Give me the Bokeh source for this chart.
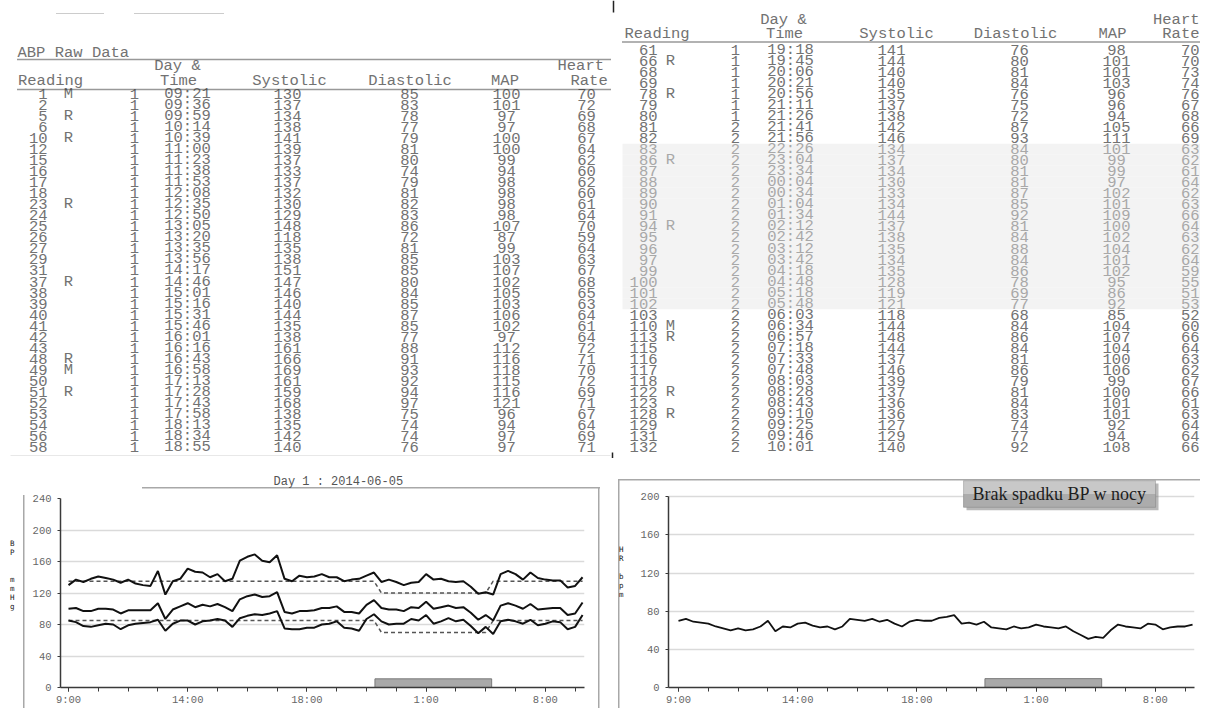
import numpy as np
from bokeh.plotting import figure
from bokeh.layouts import column, row
from bokeh.models import Range1d, FixedTicker, ColumnDataSource, Label, BoxAnnotation
from bokeh.core.properties import value
from bokeh.embed import file_html
from bokeh.resources import INLINE

reading = [1, 2, 5, 6, 10, 12, 15, 16, 17, 18, 23, 24, 25, 26, 27, 29, 31, 37, 38, 39,
           40, 41, 42, 43, 48, 49, 50, 51, 52, 53, 54, 56, 58,
           61, 66, 68, 69, 78, 79, 80, 81, 82, 83, 86, 87, 88, 89, 90, 91, 94, 95,
           96, 97, 99, 100, 101, 102, 103, 110, 113, 115, 116, 117, 118, 122, 123,
           128, 129, 131, 132]
flag_of = {1: "M", 5: "R", 10: "R", 23: "R", 37: "R", 48: "R", 49: "M", 51: "R",
           66: "R", 78: "R", 86: "R", 94: "R", 110: "M", 113: "R", 122: "R", 128: "R"}
day = [1] * 40 + [2] * 30
time = ["09:21", "09:36", "09:59", "10:14", "10:39", "11:00", "11:23", "11:38", "11:53",
        "12:08", "12:35", "12:50", "13:05", "13:20", "13:35", "13:56", "14:17", "14:46",
        "15:01", "15:16", "15:31", "15:46", "16:01", "16:16", "16:43", "16:58", "17:13",
        "17:28", "17:43", "17:58", "18:13", "18:34", "18:55",
        "19:18", "19:45", "20:06", "20:21", "20:56", "21:11", "21:26", "21:41", "21:56",
        "22:26", "23:04", "23:34", "00:04", "00:34", "01:04", "01:34", "02:12", "02:42",
        "03:12", "03:42", "04:18", "04:48", "05:18", "05:48", "06:03", "06:34", "06:57",
        "07:18", "07:33", "07:48", "08:03", "08:28", "08:43", "09:10", "09:25", "09:46",
        "10:01"]
systolic = [130, 137, 134, 138, 141, 139, 137, 133, 137, 132, 130, 129, 148, 118, 135,
            138, 151, 147, 146, 140, 144, 135, 138, 161, 166, 169, 161, 159, 168, 138,
            135, 142, 140,
            141, 144, 140, 140, 135, 137, 138, 142, 146, 134, 137, 134, 130, 133, 134,
            144, 137, 138, 135, 134, 135, 128, 119, 121, 118, 144, 148, 144, 137, 146,
            139, 137, 136, 136, 127, 129, 140]
diastolic = [85, 83, 78, 77, 79, 81, 80, 74, 79, 81, 82, 83, 86, 72, 81, 85, 85, 80, 84,
             85, 87, 85, 77, 88, 91, 93, 92, 94, 97, 75, 74, 74, 76,
             76, 80, 81, 84, 76, 75, 72, 87, 93, 84, 80, 81, 81, 87, 85, 92, 81, 84, 88,
             84, 86, 78, 69, 77, 68, 84, 86, 84, 81, 86, 79, 81, 84, 83, 74, 77, 92]
mean_ap = [100, 101, 97, 97, 100, 100, 99, 94, 98, 98, 98, 98, 107, 87, 99, 103, 107, 102,
           105, 103, 106, 102, 97, 112, 116, 118, 115, 116, 121, 96, 94, 97, 97,
           98, 101, 101, 103, 96, 96, 94, 105, 111, 101, 99, 99, 97, 102, 101, 109, 100,
           102, 104, 101, 102, 95, 86, 92, 85, 104, 107, 104, 100, 106, 99, 100, 101,
           101, 92, 94, 108]
heart_rate = [70, 72, 69, 68, 67, 64, 62, 60, 62, 60, 61, 64, 70, 59, 64, 63, 67, 68, 65,
              63, 64, 61, 64, 72, 71, 70, 72, 69, 71, 67, 64, 69, 71,
              70, 70, 73, 74, 76, 67, 68, 66, 69, 63, 62, 61, 64, 62, 63, 66, 64, 63, 62,
              64, 59, 55, 51, 53, 52, 60, 66, 64, 63, 62, 67, 66, 61, 63, 64, 64, 66]
left_rows = 33                      # rows printed in the left table
sleep_start, sleep_end = "22:00", "06:00"
sys_limit_day, sys_limit_night = 135, 120
dia_limit_day, dia_limit_night = 85, 70
tick_step, minor_step = 16, 4
bp_ticks = [0, 40, 80, 120, 160, 200, 240]
hr_ticks = [0, 40, 80, 120, 160, 200]
table_title = "ABP Raw Data"
chart_title = "Day 1 : 2014-06-05"
note_text = "Brak spadku BP w nocy"
NB = "\u00a0"
bp_axis_label = "\n".join(["B", "P", NB, NB, "m", "m", "H", "g"] + [NB] * 4)
hr_axis_label = "\n".join(["H", "R", NB, "b", "p", "m"] + [NB] * 2)

n = len(reading)
assert all(len(a) == n for a in [day, time, systolic, diastolic, mean_ap, heart_rate])
idx = np.arange(n)
flags = [flag_of.get(r, "") for r in reading]

# minutes since start of recording
mins, off, prev = [], 0, -1
for t in time:
    h, m = map(int, t.split(":"))
    v = h * 60 + m + off
    if v < prev:
        off += 1440
        v += 1440
    prev = v
    mins.append(v)
mins = np.array(mins)
hs, ms = map(int, sleep_start.split(":"))
he, me = map(int, sleep_end.split(":"))
s0 = hs * 60 + ms
s1 = he * 60 + me + 1440
night = (mins >= s0) & (mins < s1)
bar_l = float(np.interp(s0, mins, idx))
bar_r = float(np.interp(s1, mins, idx))
sys_thr = [sys_limit_night if f else sys_limit_day for f in night]
dia_thr = [dia_limit_night if f else dia_limit_day for f in night]

major = list(range(0, n, tick_step))
minor = list(range(0, n, minor_step))
xlabels = {i: "%d:00" % int(time[i].split(":")[0]) for i in major}

MONO = "Liberation Mono"
TXT = "#727272"
TXT_NIGHT = "#a8a8a8"

# ---------------- tables ----------------
TOP_H = 458
top = figure(width=1200, height=TOP_H, x_range=Range1d(0, 1200), y_range=Range1d(TOP_H, 0),
             output_backend="svg", toolbar_location=None, x_axis_location=None,
             y_axis_location=None, min_border=0)
top.frame_align = False
top.grid.visible = False
top.outline_line_color = None

FS = "15.5px"


def txt(xs, ys, texts, colors, align):
    src = ColumnDataSource(dict(x=xs, y=ys, t=texts, c=colors))
    top.text(x="x", y="y", text="t", text_color="c", source=src,
             text_font=value(MONO), text_font_size=value(FS),
             text_align=align, text_baseline="middle")


tables = [
    dict(rows=list(range(0, left_rows)), y0=93.0, dy=11.06,
         cols=dict(num=47, flag=68, day=134, time=187, sys=287, dia=409, map=506, hr=586),
         hr_align="center",
         heads=[("Day &", 177, 65, "center"), ("Heart", 557, 65, "left"),
                ("Reading", 17.5, 80, "left"), ("Time", 178, 80, "center"),
                ("Systolic", 289, 80, "center"), ("Diastolic", 409.5, 80, "center"),
                ("MAP", 504.5, 80, "center"), ("Rate", 570, 80, "left")],
         dots=[(17, 610, 59), (17, 610, 89)], shade=None),
    dict(rows=list(range(left_rows, n)), y0=49.3, dy=11.04,
         cols=dict(num=657, flag=670, day=735, time=790, sys=891, dia=1019, map=1116, hr=1199),
         hr_align="right",
         heads=[("Day &", 783, 19, "center"), ("Heart", 1199, 19, "right"),
                ("Reading", 624, 33, "left"), ("Time", 784, 33, "center"),
                ("Systolic", 896, 33, "center"), ("Diastolic", 1015, 33, "center"),
                ("MAP", 1112, 33, "center"), ("Rate", 1199, 33, "right")],
         dots=[(622, 1200, 41.5)], shade=(622, 1200)),
]

for tb in tables:
    rows = tb["rows"]
    ys = [tb["y0"] + k * tb["dy"] for k in range(len(rows))]
    cols = [TXT_NIGHT if night[i] else TXT for i in rows]
    if tb["shade"] is not None:
        ny = [ys[k] for k, i in enumerate(rows) if night[i]]
        if ny:
            top.quad(left=[tb["shade"][0]] * len(ny), right=[tb["shade"][1]] * len(ny),
                     top=[y - tb["dy"] / 2 for y in ny], bottom=[y + tb["dy"] / 2 for y in ny],
                     fill_color="#f3f3f3", line_color=None)
    c = tb["cols"]
    txt([c["num"]] * len(rows), ys, [str(reading[i]) for i in rows], cols, "right")
    txt([c["flag"]] * len(rows), ys, [flags[i] for i in rows], cols, "center")
    txt([c["day"]] * len(rows), ys, [str(day[i]) for i in rows], cols, "center")
    txt([c["time"]] * len(rows), ys, [time[i] for i in rows], cols, "center")
    txt([c["sys"]] * len(rows), ys, [str(systolic[i]) for i in rows], cols, "center")
    txt([c["dia"]] * len(rows), ys, [str(diastolic[i]) for i in rows], cols, "center")
    txt([c["map"]] * len(rows), ys, [str(mean_ap[i]) for i in rows], cols, "center")
    txt([c["hr"]] * len(rows), ys, [str(heart_rate[i]) for i in rows], cols, tb["hr_align"])
    for (h, hx, hy, al) in tb["heads"]:
        txt([hx], [hy], [h], [TXT], al)
    for (x0, x1, yy) in tb["dots"]:
        top.line([x0, x1], [yy, yy], line_color="#333333", line_width=1.3, line_dash="1 1")

txt([17], [52.7], [table_title], [TXT], "left")
top.line([56, 103], [13, 13], line_color="#999999", line_width=1, line_dash="1 1")
top.line([134, 224], [13, 13], line_color="#999999", line_width=1, line_dash="1 1")
top.line([10, 610], [455, 455], line_color="#e8e8e8", line_width=1)
top.segment(x0=[613, 612], y0=[0, 452], x1=[613, 612], y1=[12, 458],
            line_color="#222222", line_width=1.5)


# ---------------- charts ----------------
GRAY = "#a8a8a8"


def frame_bg(lines):
    layers = []
    for (x, y, w, h) in lines:
        layers.append("linear-gradient(%s,%s) %s %s / %s %s no-repeat" % (GRAY, GRAY, x, y, w, h))
    return ", ".join(layers) + ", white"


def make_chart(ml, mr, mt, mb, xs, xe, y_end, yticks, bg):
    p = figure(width=600, height=708 - TOP_H, x_range=Range1d(xs, xe),
               y_range=Range1d(0, y_end), output_backend="svg", toolbar_location=None,
               min_border_left=ml, min_border_right=mr, min_border_top=mt,
               min_border_bottom=mb, styles={"background": bg})
    p.frame_align = False
    p.border_fill_color = None
    p.background_fill_color = None
    p.outline_line_color = None
    p.xgrid.visible = False
    p.yaxis.ticker = FixedTicker(ticks=yticks)
    p.yaxis.bounds = (yticks[0], yticks[-1])
    p.ygrid.grid_line_color = "#dadada"
    p.ygrid.grid_line_width = 1.5
    for ax in (p.xaxis, p.yaxis):
        ax.axis_line_color = "#3a3a3a"
        ax.axis_line_width = 1.5
        ax.major_tick_line_color = "#3a3a3a"
        ax.minor_tick_line_color = "#3a3a3a"
        ax.major_tick_in = 0
        ax.minor_tick_in = 0
        ax.major_label_text_font = MONO
        ax.major_label_text_font_size = "10.5px"
        ax.major_label_text_color = "#666666"
    p.yaxis.major_tick_out = 3
    p.yaxis.major_label_standoff = 6
    p.yaxis.axis_label_orientation = "horizontal"
    p.yaxis.axis_label_text_font = "DejaVu Sans Mono"
    p.yaxis.axis_label_text_font_size = "7.5px"
    p.yaxis.axis_label_text_font_style = "normal"
    p.yaxis.axis_label_text_color = "#222222"
    p.yaxis.axis_label_text_line_height = 1.0
    p.xaxis.ticker = FixedTicker(ticks=major, minor_ticks=minor)
    p.xaxis.major_label_overrides = xlabels
    p.xaxis.major_tick_out = 4
    p.xaxis.minor_tick_out = 4
    p.xaxis.major_label_standoff = 2
    return p


# left: blood pressure
bp_bg = frame_bg([("23px", "37px", "1.5px", "100%"), ("142px", "29px", "100%", "1.5px"),
                  ("598px", "29px", "1.5px", "100%")])
bp = make_chart(60, 16, 40, 18, -1.074, 69.26, 240, bp_ticks, bp_bg)
bp.yaxis.axis_label = bp_axis_label
bp.yaxis.axis_label_standoff = 15
bp.title.text = chart_title
bp.title.align = "left"
bp.title.offset = 213
bp.title.text_font = MONO
bp.title.text_font_size = "12px"
bp.title.text_font_style = "normal"
bp.title.text_color = "#555555"
bp.title.standoff = 20
bp.quad(left=[bar_l], right=[bar_r], bottom=[0], top=[11], fill_color="#a9a9a9",
        line_color="#7a7a7a", line_width=1)
bp.line(idx, sys_thr, line_color="#555555", line_width=1.5, line_dash="4 3")
bp.line(idx, dia_thr, line_color="#555555", line_width=1.5, line_dash="4 3")
for series in (systolic, mean_ap, diastolic):
    bp.line(idx, series, line_color="#111111", line_width=2)

# right: heart rate
hr_bg = frame_bg([("18px", "21px", "1.5px", "100%"), ("18px", "21px", "100%", "1.5px")])
hr = make_chart(68, 6, 15, 18, -1.342, 69.26, 224.5, hr_ticks, hr_bg)
hr.yaxis.axis_label = hr_axis_label
hr.yaxis.axis_label_standoff = 14
hr.quad(left=[bar_l], right=[bar_r], bottom=[0], top=[9.3], fill_color="#a9a9a9",
        line_color="#7a7a7a", line_width=1)
hr.line(idx, heart_rate, line_color="#111111", line_width=1.8)
# note box
hr.add_layout(BoxAnnotation(left=38.66, right=64.43, top=214.0, bottom=186.0,
                            fill_color="#808080", fill_alpha=0.55, line_alpha=0))
hr.add_layout(BoxAnnotation(left=38.26, right=64.03, top=217.0, bottom=189.0,
                            fill_color="#c8c8c8", fill_alpha=1, line_alpha=0))
hr.add_layout(BoxAnnotation(left=38.26, right=64.03, top=203.0, bottom=189.0,
                            fill_color="#acacac", fill_alpha=1, line_alpha=0))
hr.add_layout(BoxAnnotation(left=38.26, right=64.03, top=217.0, bottom=189.0,
                            fill_alpha=0, line_color="#5a5a5a", line_width=1))
hr.add_layout(Label(x=51.15, y=203.0, text=note_text,
                    text_font="Liberation Serif", text_font_size="18px",
                    text_color="#1e1e1e", text_align="center", text_baseline="middle"))

layout = column(top, row(bp, hr))
open("out.html", "w").write(file_html(layout, INLINE))
